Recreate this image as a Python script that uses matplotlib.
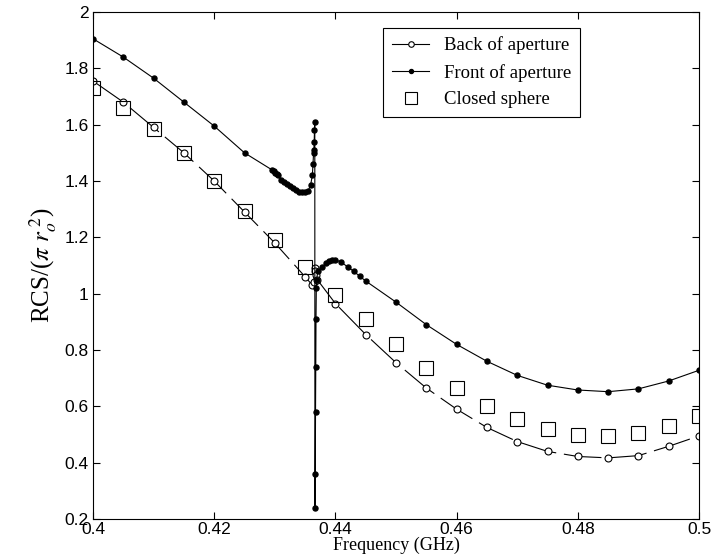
import matplotlib
matplotlib.use("Agg")
import matplotlib.pyplot as plt
import numpy as np

plt.rcParams['mathtext.fontset'] = 'stix'

# Front of aperture
front_f = [0.400, 0.405, 0.410, 0.415, 0.420, 0.425, 0.4295, 0.4298, 0.430, 0.4303, 0.4306,
           0.431, 0.4315, 0.432, 0.4325, 0.433, 0.4335, 0.434, 0.4345, 0.435, 0.4355,
           0.4359, 0.4362, 0.4363, 0.4364, 0.43645, 0.4365, 0.43655, 0.4366,
           0.43662, 0.43668, 0.43672, 0.43676, 0.4368, 0.43685, 0.4369, 0.4371,
           0.4378, 0.4385, 0.439, 0.4395, 0.440, 0.441, 0.442, 0.443, 0.444, 0.445,
           0.450, 0.455, 0.460, 0.465, 0.470, 0.475, 0.480, 0.485, 0.490, 0.495, 0.500]
front_v = [1.905, 1.840, 1.765, 1.680, 1.595, 1.500, 1.440, 1.435, 1.430, 1.425, 1.420,
           1.405, 1.398, 1.390, 1.382, 1.375, 1.368, 1.362, 1.360, 1.360, 1.365,
           1.385, 1.420, 1.460, 1.500, 1.510, 1.540, 1.580, 1.610,
           0.240, 0.360, 0.580, 0.740, 0.910, 1.020, 1.050, 1.080,
           1.095, 1.108, 1.115, 1.120, 1.120, 1.112, 1.095, 1.080, 1.062, 1.045,
           0.970, 0.890, 0.820, 0.760, 0.710, 0.675, 0.658, 0.652, 0.662, 0.690, 0.728]

# Back of aperture
back_f = [0.400, 0.405, 0.410, 0.415, 0.420, 0.425, 0.430, 0.435, 0.4362, 0.4364,
          0.4366, 0.4367, 0.4368, 0.437, 0.440, 0.445, 0.450, 0.455, 0.460, 0.465,
          0.470, 0.475, 0.480, 0.485, 0.490, 0.495, 0.500]
back_v = [1.755, 1.680, 1.590, 1.500, 1.400, 1.290, 1.180, 1.060, 1.030, 1.040,
          1.090, 1.080, 1.065, 1.050, 0.965, 0.855, 0.755, 0.665, 0.590, 0.525,
          0.475, 0.440, 0.422, 0.417, 0.425, 0.458, 0.495]

# Closed sphere
closed_f = [0.400, 0.405, 0.410, 0.415, 0.420, 0.425, 0.430, 0.435, 0.440, 0.445, 0.450,
            0.455, 0.460, 0.465, 0.470, 0.475, 0.480, 0.485, 0.490, 0.495, 0.500]
closed_v = [1.730, 1.660, 1.585, 1.500, 1.400, 1.295, 1.190, 1.095, 0.995, 0.910, 0.820,
            0.735, 0.665, 0.600, 0.555, 0.520, 0.500, 0.495, 0.505, 0.530, 0.565]

xticks = [0.4, 0.42, 0.44, 0.46, 0.48, 0.5]
xticklabels = ['0.4', '0.42', '0.44', '0.46', '0.48', '0.5']
yticks = [0.2, 0.4, 0.6, 0.8, 1.0, 1.2, 1.4, 1.6, 1.8, 2.0]
yticklabels = ['0.2', '0.4', '0.6', '0.8', '1', '1.2', '1.4', '1.6', '1.8', '2']

fig = plt.figure(figsize=(7.16, 5.54), dpi=100)
ax = fig.add_axes([93/716, 1-519/554, (699-93)/716, (519-12)/554])

ax.plot(back_f, back_v, color='black', lw=0.8, dashes=(34, 7), marker='o', ms=5,
        mfc='white', mec='black', mew=0.8, label='Back of aperture')
ax.plot(front_f, front_v, color='black', lw=0.8, marker='o', ms=3.6,
        mfc='black', mec='black', label='Front of aperture')
ax.plot(closed_f, closed_v, ls='none', marker='s', ms=10, mfc='none', mec='black',
        mew=0.8, label='Closed sphere')

ax.set_xlim(0.4, 0.5)
ax.set_ylim(0.2, 2.0)
ax.set_xticks(xticks)
ax.set_xticklabels(xticklabels)
ax.set_yticks(yticks)
ax.set_yticklabels(yticklabels)
ax.tick_params(direction='in', top=True, right=True, length=5, width=0.8,
               labelsize=12.5)
ax.tick_params(axis='x', pad=2)
ax.tick_params(axis='y', pad=3)
for lbl in ax.get_xticklabels() + ax.get_yticklabels():
    lbl.set_fontfamily('Liberation Sans')
for s in ax.spines.values():
    s.set_linewidth(0.8)

ax.set_xlabel('Frequency (GHz)', fontsize=13, family='Liberation Serif', labelpad=0)
ax.set_ylabel(r'RCS/($\pi$ $r_o^{\ 2}$)', fontsize=18, family='Liberation Serif', labelpad=4)

leg = ax.legend(loc='upper right', bbox_to_anchor=(580/716, 1-28/554),
                bbox_transform=fig.transFigure, borderaxespad=0, fancybox=False,
                edgecolor='black', framealpha=1,
                prop={'family': 'Liberation Serif', 'size': 13.5},
                handlelength=2.0, borderpad=0.45, labelspacing=0.5, markerscale=0.8)
leg.get_frame().set_linewidth(0.8)
leg.get_lines()[0].set_linestyle('-')

fig.savefig('out.png', dpi=100)
